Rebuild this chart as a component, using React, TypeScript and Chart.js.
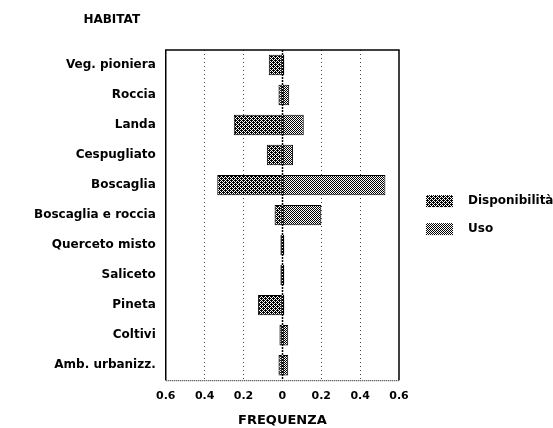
import React, { useEffect, useRef } from "react";
import { Chart, registerables } from "chart.js";

Chart.register(...registerables);

const categories = [
  "Veg. pioniera",
  "Roccia",
  "Landa",
  "Cespugliato",
  "Boscaglia",
  "Boscaglia e roccia",
  "Querceto misto",
  "Saliceto",
  "Pineta",
  "Coltivi",
  "Amb. urbanizz.",
];
const disponibilita = [-0.07, -0.02, -0.25, -0.08, -0.335, -0.04, -0.01, -0.01, -0.125, -0.015, -0.02];
const uso = [0.01, 0.035, 0.11, 0.055, 0.53, 0.2, 0.01, 0.01, 0.01, 0.03, 0.03];
const xTicks = [-0.6, -0.4, -0.2, 0, 0.2, 0.4, 0.6];
const seriesNames = ["Disponibilità", "Uso"];

const FONT = "'DejaVu Sans', sans-serif";

function makePattern(kind: number): CanvasPattern | string {
  const c = document.createElement("canvas");
  c.width = 4;
  c.height = 4;
  const g = c.getContext("2d");
  if (!g) return "#888";
  g.fillStyle = "#fff";
  g.fillRect(0, 0, 4, 4);
  g.fillStyle = "#000";
  const pts =
    kind === 0
      ? [[0, 0], [2, 0], [1, 1], [3, 1], [0, 2], [2, 2], [1, 3], [3, 3], [3, 0], [1, 2]]
      : [[0, 0], [2, 0], [1, 1], [3, 1], [0, 2], [2, 2], [1, 3], [3, 3]];
  pts.forEach(([x, y]) => g.fillRect(x, y, 1, 1));
  const p = g.createPattern(c, "repeat");
  return p || "#888";
}

export default function App() {
  const ref = useRef<HTMLCanvasElement | null>(null);
  useEffect(() => {
    if (!ref.current) return;
    const patterns = [makePattern(0), makePattern(1)];
    const framePlugin = {
      id: "frame",
      beforeDatasetsDraw(chart: any) {
        const { ctx, chartArea } = chart;
        const xs = chart.scales.x;
        const x0 = xs.getPixelForValue(0);
        ctx.save();
        ctx.strokeStyle = "#000";
        ctx.lineWidth = 1.5;
        ctx.setLineDash([2, 1]);
        ctx.beginPath();
        ctx.moveTo(Math.round(x0) + 0.5, chartArea.top);
        ctx.lineTo(Math.round(x0) + 0.5, chartArea.bottom);
        ctx.stroke();
        ctx.restore();
      },
      afterDraw(chart: any) {
        const { ctx, chartArea } = chart;
        ctx.save();
        ctx.strokeStyle = "#000";
        ctx.lineWidth = 1.5;
        ctx.setLineDash([]);
        ctx.beginPath();
        ctx.moveTo(chartArea.left, chartArea.bottom);
        ctx.lineTo(chartArea.left, chartArea.top);
        ctx.lineTo(chartArea.right, chartArea.top);
        ctx.lineTo(chartArea.right, chartArea.bottom);
        ctx.stroke();
        ctx.lineWidth = 1;
        ctx.setLineDash([1, 1]);
        ctx.beginPath();
        ctx.moveTo(chartArea.left, chartArea.bottom + 0.5);
        ctx.lineTo(chartArea.right, chartArea.bottom + 0.5);
        ctx.stroke();
        ctx.setLineDash([]);
        ctx.fillStyle = "#000";
        ctx.font = "bold 12px " + FONT;
        ctx.textAlign = "center";
        ctx.textBaseline = "middle";
        ctx.fillText("HABITAT", chartArea.left - 54, 20);
        // legend
        const midY = (chartArea.top + chartArea.bottom) / 2;
        const bx = chartArea.right + 27;
        seriesNames.forEach((name, i) => {
          const cy = midY - 14 + i * 28;
          ctx.fillStyle = patterns[i] as any;
          ctx.fillRect(bx, cy - 6, 27, 12);
          ctx.fillStyle = "#000";
          ctx.textAlign = "left";
          ctx.fillText(name, bx + 42, cy);
        });
        ctx.restore();
      },
    };
    const chart = new Chart(ref.current, {
      type: "bar",
      data: {
        labels: categories,
        datasets: [
          {
            label: seriesNames[0],
            data: disponibilita,
            backgroundColor: patterns[0] as any,
            borderColor: "#000",
            borderWidth: 1,
            borderSkipped: false,
            barPercentage: 0.68,
            categoryPercentage: 1,
          },
          {
            label: seriesNames[1],
            data: uso,
            backgroundColor: patterns[1] as any,
            borderColor: "#000",
            borderWidth: 1,
            borderSkipped: false,
            barPercentage: 0.68,
            categoryPercentage: 1,
          },
        ],
      },
      options: {
        indexAxis: "y",
        animation: false,
        responsive: false,
        maintainAspectRatio: false,
        layout: { padding: { top: 50, left: 24, right: 154, bottom: 0 } },
        plugins: {
          tooltip: { enabled: false },
          legend: { display: false },
          title: { display: false },
        },
        scales: {
          x: {
            type: "linear",
            min: -0.6,
            max: 0.6,
            stacked: true,
            afterBuildTicks(scale: any) {
              scale.ticks = xTicks.map((v) => ({ value: v }));
            },
            ticks: {
              color: "#000",
              font: { family: FONT, size: 11, weight: "bold" },
              padding: 9,
              callback: (v: any) => {
                const n = Math.abs(Number(v));
                return n === 0 ? "0" : n.toFixed(1);
              },
            },
            grid: {
              color: (ctx: any) =>
                ctx.tick && (ctx.tick.value === 0 || Math.abs(ctx.tick.value) === 0.6)
                  ? "rgba(0,0,0,0)"
                  : "#444",
              lineWidth: 1,
              drawTicks: false,
            },
            border: { display: false, dash: [1, 3] },
            title: {
              display: true,
              text: "FREQUENZA",
              color: "#000",
              font: { family: FONT, size: 13, weight: "bold" },
              padding: { top: 1, bottom: 0 },
            },
          },
          y: {
            stacked: true,
            ticks: {
              color: "#000",
              font: { family: FONT, size: 12, weight: "bold" },
              padding: 10,
            },
            grid: { display: false, drawTicks: false },
            border: { display: false },
          },
        },
      },
      plugins: [framePlugin],
    });
    return () => chart.destroy();
  }, []);
  return (
    <div style={{ position: "fixed", left: 0, top: 0, width: 553, height: 428, background: "#fff" }}>
      <canvas ref={ref} width={553} height={428} style={{ width: 553, height: 428 }} />
    </div>
  );
}
